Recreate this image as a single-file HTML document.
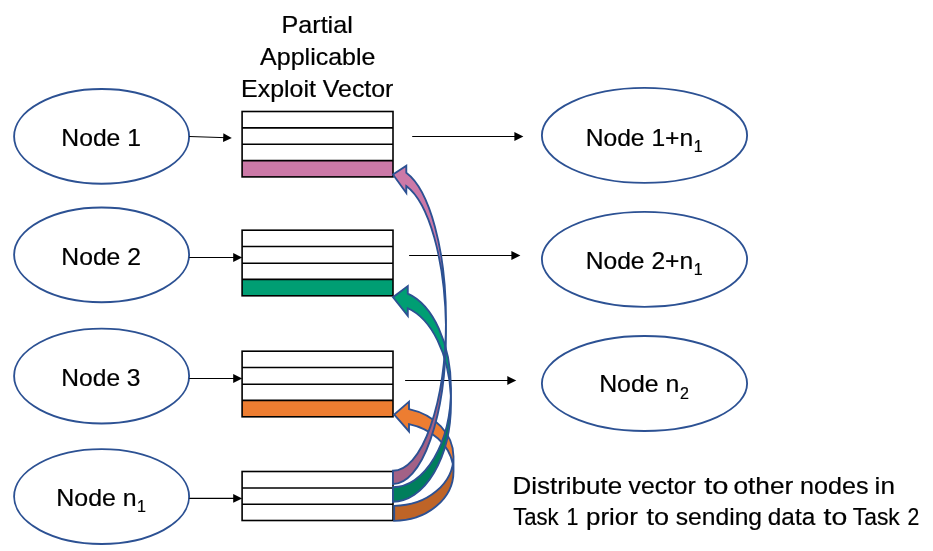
<!DOCTYPE html>
<html lang="en">
<head>
<meta charset="utf-8">
<title>Partial Applicable Exploit Vector distribution</title>
<style>
html,body{margin:0;padding:0;background:#fff;}
body{width:933px;height:551px;overflow:hidden;}
svg{display:block;will-change:transform;}
svg text{font-family:"Liberation Sans",sans-serif;fill:#000;stroke:#000;stroke-width:0.22px;}
</style>
</head>
<body>
<svg width="933" height="551" viewBox="0 0 933 551">
<rect x="0" y="0" width="933" height="551" fill="#fff"/>
<ellipse cx="101.60" cy="136.40" rx="87.50" ry="47.40" fill="#fff" stroke="#2C5193" stroke-width="1.85"/>
<ellipse cx="101.60" cy="254.85" rx="87.50" ry="47.40" fill="#fff" stroke="#2C5193" stroke-width="1.85"/>
<ellipse cx="101.60" cy="376.05" rx="87.50" ry="47.40" fill="#fff" stroke="#2C5193" stroke-width="1.85"/>
<ellipse cx="101.60" cy="496.55" rx="87.50" ry="47.40" fill="#fff" stroke="#2C5193" stroke-width="1.85"/>
<ellipse cx="644.50" cy="135.40" rx="102.60" ry="47.50" fill="#fff" stroke="#2C5193" stroke-width="1.85"/>
<ellipse cx="644.50" cy="259.35" rx="102.60" ry="47.50" fill="#fff" stroke="#2C5193" stroke-width="1.85"/>
<ellipse cx="644.50" cy="383.50" rx="102.60" ry="47.50" fill="#fff" stroke="#2C5193" stroke-width="1.85"/>
<rect x="242.10" y="160.60" width="150.90" height="16.30" fill="#CC79A7"/>
<rect x="242.10" y="111.50" width="150.90" height="65.40" fill="none" stroke="#000" stroke-width="1.6"/>
<line x1="242.10" y1="127.90" x2="393.00" y2="127.90" stroke="#000" stroke-width="1.6"/>
<line x1="242.10" y1="144.20" x2="393.00" y2="144.20" stroke="#000" stroke-width="1.6"/>
<line x1="242.10" y1="160.60" x2="393.00" y2="160.60" stroke="#000" stroke-width="1.6"/>
<rect x="242.10" y="279.40" width="150.90" height="16.40" fill="#009E73"/>
<rect x="242.10" y="230.20" width="150.90" height="65.60" fill="none" stroke="#000" stroke-width="1.6"/>
<line x1="242.10" y1="246.50" x2="393.00" y2="246.50" stroke="#000" stroke-width="1.6"/>
<line x1="242.10" y1="263.20" x2="393.00" y2="263.20" stroke="#000" stroke-width="1.6"/>
<line x1="242.10" y1="279.40" x2="393.00" y2="279.40" stroke="#000" stroke-width="1.6"/>
<rect x="242.10" y="400.40" width="150.90" height="16.40" fill="#ED7D31"/>
<rect x="242.10" y="351.20" width="150.90" height="65.60" fill="none" stroke="#000" stroke-width="1.6"/>
<line x1="242.10" y1="367.50" x2="393.00" y2="367.50" stroke="#000" stroke-width="1.6"/>
<line x1="242.10" y1="384.20" x2="393.00" y2="384.20" stroke="#000" stroke-width="1.6"/>
<line x1="242.10" y1="400.40" x2="393.00" y2="400.40" stroke="#000" stroke-width="1.6"/>
<rect x="242.10" y="471.50" width="150.90" height="49.00" fill="none" stroke="#000" stroke-width="1.6"/>
<line x1="242.10" y1="488.00" x2="393.00" y2="488.00" stroke="#000" stroke-width="1.6"/>
<line x1="242.10" y1="504.30" x2="393.00" y2="504.30" stroke="#000" stroke-width="1.6"/>
<line x1="189.30" y1="136.50" x2="224.20" y2="137.65" stroke="#000" stroke-width="1.0"/>
<polygon points="231.80,137.90 223.06,142.01 223.35,133.22" fill="#000"/>
<line x1="189.30" y1="257.50" x2="234.20" y2="257.50" stroke="#000" stroke-width="1.2"/>
<polygon points="242.20,257.50 233.20,261.90 233.20,253.10" fill="#000"/>
<line x1="189.30" y1="378.50" x2="234.20" y2="378.50" stroke="#000" stroke-width="1.2"/>
<polygon points="242.20,378.50 233.20,382.90 233.20,374.10" fill="#000"/>
<line x1="189.30" y1="498.40" x2="234.20" y2="498.40" stroke="#000" stroke-width="1.2"/>
<polygon points="242.20,498.40 233.20,502.80 233.20,494.00" fill="#000"/>
<line x1="412.20" y1="136.50" x2="515.40" y2="136.50" stroke="#000" stroke-width="1.2"/>
<polygon points="523.40,136.50 514.40,140.90 514.40,132.10" fill="#000"/>
<line x1="409.10" y1="255.50" x2="512.40" y2="255.50" stroke="#000" stroke-width="1.2"/>
<polygon points="520.40,255.50 511.40,259.90 511.40,251.10" fill="#000"/>
<line x1="405.10" y1="380.50" x2="508.30" y2="380.50" stroke="#000" stroke-width="1.2"/>
<polygon points="516.30,380.50 507.30,384.90 507.30,376.10" fill="#000"/>
<path d="M394.20 414.50 L409.00 401.66 L409.00 409.06 A59.30 49.40 0 0 1 452.81 463.90 A59.30 49.40 0 0 0 409.00 424.06 L409.00 431.46 Z" fill="#ED7D31"/>
<path d="M453.50 456.40 A59.30 49.40 0 0 1 394.20 505.80 L394.20 520.80 A59.30 49.40 0 0 0 453.50 471.40 Z" fill="#BE6427"/>
<path d="M453.50 456.40 A59.30 49.40 0 0 1 394.20 505.80 L394.20 520.80 A59.30 49.40 0 0 0 453.50 471.40 L453.50 456.40 A59.30 49.40 0 0 0 409.00 409.06 L409.00 401.66 L394.20 414.50 L409.00 431.46 L409.00 424.06 A59.30 49.40 0 0 1 452.81 463.90" fill="none" stroke="#2C5193" stroke-width="1.85" stroke-linejoin="miter"/>
<path d="M393.00 297.20 L407.80 286.06 L407.80 293.66 A58.00 98.60 0 0 1 450.84 395.80 A58.00 98.60 0 0 0 407.80 308.26 L407.80 315.86 Z" fill="#009E73"/>
<path d="M451.00 388.50 A58.00 98.60 0 0 1 393.00 487.10 L393.00 501.70 A58.00 98.60 0 0 0 451.00 403.10 Z" fill="#007E5C"/>
<path d="M451.00 388.50 A58.00 98.60 0 0 1 393.00 487.10 L393.00 501.70 A58.00 98.60 0 0 0 451.00 403.10 L451.00 388.50 A58.00 98.60 0 0 0 407.80 293.66 L407.80 286.06 L393.00 297.20 L407.80 315.86 L407.80 308.26 A58.00 98.60 0 0 1 450.84 395.80" fill="none" stroke="#2C5193" stroke-width="1.85" stroke-linejoin="miter"/>
<path d="M393.00 174.55 L406.30 165.79 L406.30 172.74 A53.00 151.40 0 0 1 445.95 325.95 A53.00 151.40 0 0 0 406.30 186.04 L406.30 192.99 Z" fill="#CC79A7"/>
<path d="M446.00 319.30 A53.00 151.40 0 0 1 393.00 470.70 L393.00 484.00 A53.00 151.40 0 0 0 446.00 332.60 Z" fill="#A36186"/>
<path d="M446.00 319.30 A53.00 151.40 0 0 1 393.00 470.70 L393.00 484.00 A53.00 151.40 0 0 0 446.00 332.60 L446.00 319.30 A53.00 151.40 0 0 0 406.30 172.74 L406.30 165.79 L393.00 174.55 L406.30 192.99 L406.30 186.04 A53.00 151.40 0 0 1 445.95 325.95" fill="none" stroke="#2C5193" stroke-width="1.85" stroke-linejoin="miter"/>

<g>
<text x="281.56" y="32.60" font-size="24.0" textLength="71.2" lengthAdjust="spacingAndGlyphs" text-anchor="start">Partial</text>
<text x="260.14" y="64.50" font-size="24.0" textLength="115.3" lengthAdjust="spacingAndGlyphs" text-anchor="start">Applicable</text>
<text x="241.12" y="96.70" font-size="24.0" textLength="152.3" lengthAdjust="spacingAndGlyphs" text-anchor="start">Exploit Vector</text>
<text x="61.33" y="145.70" font-size="24.5" textLength="79.6" lengthAdjust="spacingAndGlyphs" text-anchor="start">Node 1</text>
<text x="61.33" y="264.80" font-size="24.5" textLength="79.6" lengthAdjust="spacingAndGlyphs" text-anchor="start">Node 2</text>
<text x="61.35" y="385.60" font-size="24.5" textLength="79.2" lengthAdjust="spacingAndGlyphs" text-anchor="start">Node 3</text>
<text font-size="24.5"><tspan x="56.37" y="505.70" textLength="80.3" lengthAdjust="spacingAndGlyphs">Node n</tspan><tspan x="137.12" y="511.70" font-size="16.0">1</tspan></text>
<text font-size="24.5"><tspan x="585.69" y="145.80" textLength="107.5" lengthAdjust="spacingAndGlyphs">Node 1+n</tspan><tspan x="693.83" y="151.80" font-size="16.0">1</tspan></text>
<text font-size="24.5"><tspan x="585.69" y="268.80" textLength="107.5" lengthAdjust="spacingAndGlyphs">Node 2+n</tspan><tspan x="693.83" y="274.80" font-size="16.0">1</tspan></text>
<text font-size="24.5"><tspan x="599.17" y="392.40" textLength="80.2" lengthAdjust="spacingAndGlyphs">Node n</tspan><tspan x="680.08" y="398.60" font-size="16.0">2</tspan></text>
<text y="493.80" font-size="24.5" xml:space="preserve"><tspan x="512.48" textLength="109.6" lengthAdjust="spacingAndGlyphs">Distribute</tspan> <tspan x="628.55" textLength="67.3" lengthAdjust="spacingAndGlyphs">vector</tspan> <tspan x="704.20" textLength="24.2" lengthAdjust="spacingAndGlyphs">to</tspan> <tspan x="733.43" textLength="59.8" lengthAdjust="spacingAndGlyphs">other</tspan> <tspan x="800.11" textLength="68.4" lengthAdjust="spacingAndGlyphs">nodes</tspan> <tspan x="874.63" textLength="20.3" lengthAdjust="spacingAndGlyphs">in</tspan></text>
<text y="525.20" font-size="24.5" xml:space="preserve"><tspan x="513.15" textLength="45.4" lengthAdjust="spacingAndGlyphs">Task</tspan> <tspan x="566.57" textLength="11.9" lengthAdjust="spacingAndGlyphs">1</tspan> <tspan x="586.12" textLength="51.7" lengthAdjust="spacingAndGlyphs">prior</tspan> <tspan x="646.52" textLength="22.5" lengthAdjust="spacingAndGlyphs">to</tspan> <tspan x="675.75" textLength="86.3" lengthAdjust="spacingAndGlyphs">sending</tspan> <tspan x="767.81" textLength="47.4" lengthAdjust="spacingAndGlyphs">data</tspan> <tspan x="823.51" textLength="23.7" lengthAdjust="spacingAndGlyphs">to</tspan> <tspan x="852.83" textLength="46.9" lengthAdjust="spacingAndGlyphs">Task</tspan> <tspan x="907.52" textLength="11.8" lengthAdjust="spacingAndGlyphs">2</tspan></text>
</g>
</svg>
</body>
</html>
